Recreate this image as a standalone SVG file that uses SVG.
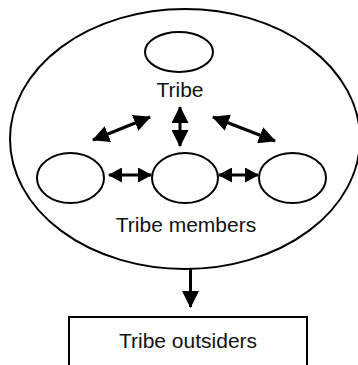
<svg xmlns="http://www.w3.org/2000/svg" width="358" height="365" viewBox="0 0 358 365">
<style>
.shape{fill:none;stroke:#000;stroke-width:2}
.lbl{font-family:"Liberation Sans",Arial,sans-serif;font-size:21px;fill:#111;text-anchor:middle}
.con{stroke:#000;stroke-width:3;fill:none}
.big{marker-start:url(#hb);marker-end:url(#hb)}
.sm{marker-start:url(#hs);marker-end:url(#hs)}
</style>
<defs>
<marker id="hb" markerUnits="userSpaceOnUse" viewBox="0 0 17 17" refX="16" refY="8.5" markerWidth="17" markerHeight="17" orient="auto-start-reverse"><path d="M0,0 L17,8.5 L0,17 z" fill="#000"/></marker>
<marker id="hs" markerUnits="userSpaceOnUse" viewBox="0 0 14 15" refX="13" refY="7.5" markerWidth="14" markerHeight="15" orient="auto-start-reverse"><path d="M0,0 L14,7.5 L0,15 z" fill="#000"/></marker>
</defs>
<g id="tribe">
<ellipse class="shape" cx="185" cy="139" rx="175" ry="130"/>
<text class="lbl" x="180" y="97">Tribe</text>
</g>
<g id="leader"><ellipse class="shape" cx="179" cy="52" rx="34" ry="20"/></g>
<g id="member-left"><ellipse class="shape" cx="70.5" cy="178" rx="33.5" ry="25"/></g>
<g id="member-middle"><ellipse class="shape" cx="185" cy="178" rx="33" ry="25"/></g>
<g id="member-right"><ellipse class="shape" cx="292.5" cy="178" rx="33.5" ry="25"/></g>
<g id="members-label"><text class="lbl" x="186" y="232">Tribe members</text></g>
<g id="outsiders">
<rect class="shape" x="69" y="317" width="238" height="60"/>
<text class="lbl" x="188" y="348">Tribe outsiders</text>
</g>
<g id="connectors">
<line class="con big" x1="93" y1="140" x2="150" y2="117"/>
<line class="con big" x1="180" y1="107" x2="180" y2="146"/>
<line class="con big" x1="213" y1="117" x2="275" y2="141"/>
<line class="con sm" x1="109" y1="175" x2="151" y2="175"/>
<line class="con sm" x1="219" y1="175" x2="258" y2="175"/>
<line class="con" x1="190.5" y1="269" x2="190.5" y2="307" marker-end="url(#hb)"/>
</g>
</svg>
